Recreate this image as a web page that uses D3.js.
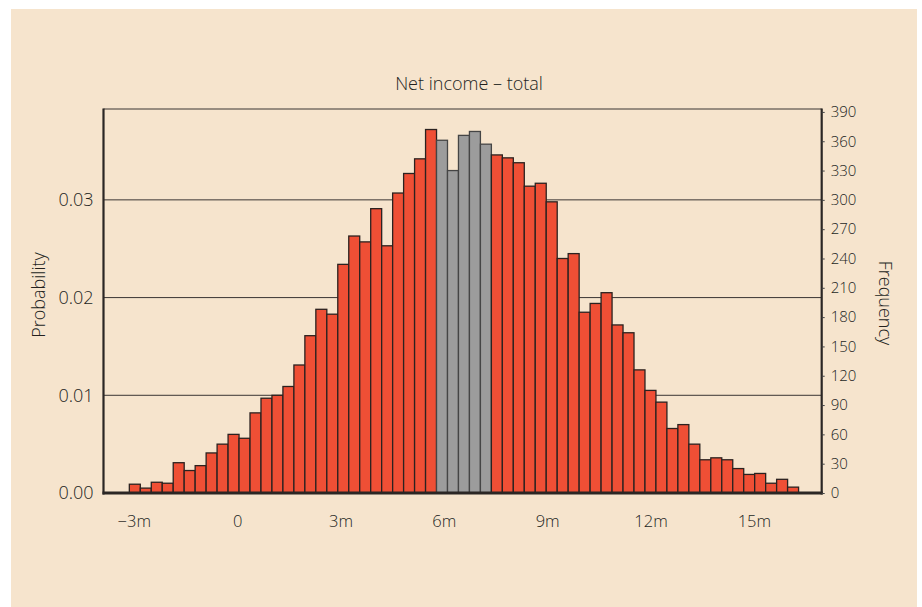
<!DOCTYPE html>
<html>
<head>
<meta charset="utf-8">
<script src="https://cdn.jsdelivr.net/npm/d3@7"></script>
<style>
html,body{margin:0;padding:0;background:#fff;}
svg{display:block;}
text{font-family:"Open Sans", Lato, sans-serif;font-weight:300;fill:#231f1d;}
</style>
</head>
<body>
<svg id="chart" width="922" height="607"></svg>
<script>
// ---- data ----
const title = "Net income – total";
const binStart = -3.13;        // millions
const binWidth = 0.3185;       // millions
const frequencies = [
  9, 5, 11, 10, 31, 23, 28, 41, 50, 60, 56, 82, 97, 100, 109, 131, 161, 188, 183, 234,
  263, 257, 291, 253, 307, 327, 342, 372,
  361, 330, 366, 370, 357,
  346, 343, 338, 314, 317, 298, 240, 245, 185, 194, 205, 172, 164, 126, 105, 93, 66,
  70, 50, 34, 36, 34, 25, 19, 20, 10, 14, 6
];
const highlighted = [28, 29, 30, 31, 32]; // indices of grey bins
const totalCount = 10000;
const xTicks = [-3, 0, 3, 6, 9, 12, 15];
const xTickLabels = ["\u22123m", "0", "3m", "6m", "9m", "12m", "15m"];
const probTicks = [0, 0.01, 0.02, 0.03];
const freqTicks = [0, 30, 60, 90, 120, 150, 180, 210, 240, 270, 300, 330, 360, 390];

// ---- layout ----
const svg = d3.select("#chart");
svg.append("rect").attr("x", 11).attr("y", 9).attr("width", 906).attr("height", 598).attr("fill", "#f6e4cd");

const L = 103.5, R = 821.7, T = 109, B = 493;
const x = d3.scaleLinear().domain([-3.88, 16.97]).range([L, R]);
const yF = d3.scaleLinear().domain([0, 393]).range([B, T]);
const yP = d3.scaleLinear().domain([0, 0.0393]).range([B, T]);

// gridlines
svg.append("g").selectAll("line").data(probTicks.filter(d => d > 0)).join("line")
  .attr("x1", L).attr("x2", R).attr("y1", d => yP(d)).attr("y2", d => yP(d))
  .attr("stroke", "#3a3533").attr("stroke-width", 1);

// top frame line
svg.append("line").attr("x1", L).attr("x2", R).attr("y1", T).attr("y2", T)
  .attr("stroke", "#3a3533").attr("stroke-width", 1);

// bars
const bins = frequencies.map((f, i) => ({i, f, x0: binStart + i * binWidth, x1: binStart + (i + 1) * binWidth}));
svg.append("g").selectAll("rect").data(bins).join("rect")
  .attr("x", d => x(d.x0))
  .attr("width", d => x(d.x1) - x(d.x0))
  .attr("y", d => yF(d.f))
  .attr("height", d => B - yF(d.f))
  .attr("fill", d => highlighted.includes(d.i) ? "#9c9c9c" : "#ef4f35")
  .attr("stroke", d => highlighted.includes(d.i) ? "#454545" : "#2b2220")
  .attr("stroke-width", 1.3);

// axes frame (thick)
svg.append("line").attr("x1", L).attr("x2", L).attr("y1", T - 0.5).attr("y2", B + 1.5)
  .attr("stroke", "#2b2624").attr("stroke-width", 2.2);
svg.append("line").attr("x1", R).attr("x2", R).attr("y1", T - 0.5).attr("y2", B + 1.5)
  .attr("stroke", "#2b2624").attr("stroke-width", 2.2);
svg.append("line").attr("x1", L - 1).attr("x2", R + 1).attr("y1", B).attr("y2", B)
  .attr("stroke", "#2b2624").attr("stroke-width", 3);

const FONT = "'Open Sans', Lato, sans-serif";
const TXT = "#231f1d";

// left axis labels
const leftAxis = d3.axisLeft(yP).tickValues(probTicks).tickFormat(d3.format(".2f")).tickSize(0).tickPadding(10);
const gl = svg.append("g").attr("transform", `translate(${L},0)`).call(leftAxis);
gl.select(".domain").remove();
gl.selectAll("text").attr("font-size", 18).attr("fill", TXT).style("font-family", FONT).style("font-weight", 300);

// right axis
const rightAxis = d3.axisRight(yF).tickValues(freqTicks).tickSize(3).tickPadding(6);
const gr = svg.append("g").attr("transform", `translate(${R},0)`).call(rightAxis);
gr.select(".domain").remove();
gr.selectAll("line").attr("stroke", "#444");
gr.selectAll("text").attr("font-size", 15).attr("fill", TXT).style("font-family", FONT).style("font-weight", 300);

// bottom axis labels
const bottomAxis = d3.axisBottom(x).tickValues(xTicks).tickFormat((d, i) => xTickLabels[i]).tickSize(0).tickPadding(22);
const gb = svg.append("g").attr("transform", `translate(0,${B})`).call(bottomAxis);
gb.select(".domain").remove();
gb.selectAll("text").attr("font-size", 16.5).attr("fill", TXT).style("font-family", FONT).style("font-weight", 300);

// titles
svg.append("text").attr("x", 469).attr("y", 90).attr("text-anchor", "middle")
  .attr("font-size", 18).text(title);
svg.append("text").attr("transform", "translate(45,295) rotate(-90)").attr("text-anchor", "middle")
  .attr("font-size", 18).text("Probability");
svg.append("text").attr("transform", "translate(879,303) rotate(90)").attr("text-anchor", "middle")
  .attr("font-size", 18).text("Frequency");
</script>
</body>
</html>
